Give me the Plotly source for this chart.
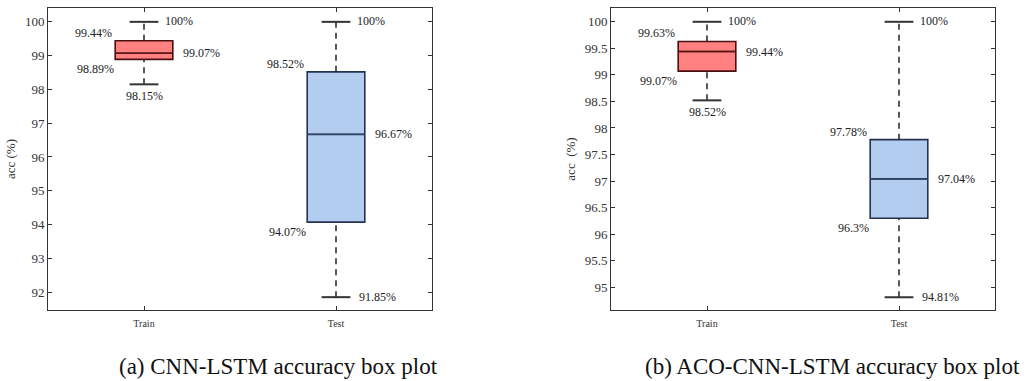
import plotly.graph_objects as go

categories = ["Train", "Test"]

# panel (a) CNN-LSTM
a_min = [98.15, 91.85]
a_q1 = [98.89, 94.07]
a_med = [99.07, 96.67]
a_q3 = [99.44, 98.52]
a_max = [100, 100]

# panel (b) ACO-CNN-LSTM
b_min = [98.52, 94.81]
b_q1 = [99.07, 96.30]
b_med = [99.44, 97.04]
b_q3 = [99.63, 97.78]
b_max = [100, 100]

a_ticks = [92, 93, 94, 95, 96, 97, 98, 99, 100]
b_ticks = [95, 95.5, 96, 96.5, 97, 97.5, 98, 98.5, 99, 99.5, 100]

captions = ["(a) CNN-LSTM accuracy box plot", "(b) ACO-CNN-LSTM accuracy box plot"]

def fmt(v):
    s = ("%.2f" % v).rstrip("0").rstrip(".")
    return s + "%"

fills = ["#FF8080", "#B3CDF1"]
edges = ["#4a1010", "#26324d"]
medc = ["#5a1515", "#2c4868"]
BOXW = 0.3
CAPW = 0.15
FONT = "Liberation Serif"

fig = go.Figure()

panels = [
    (a_min, a_q1, a_med, a_q3, a_max, "x", "y"),
    (b_min, b_q1, b_med, b_q3, b_max, "x2", "y2"),
]

annotations = []
for (mn, q1, md, q3, mx, xa, ya) in panels:
    for i, cat in enumerate(categories):
        # dashed whiskers
        fig.add_trace(go.Scatter(x=[i, i], y=[q3[i], mx[i]], mode="lines",
                                 line=dict(color="#222222", width=1.5, dash="6px,5px"),
                                 xaxis=xa, yaxis=ya, showlegend=False, hoverinfo="skip"))
        fig.add_trace(go.Scatter(x=[i, i], y=[mn[i], q1[i]], mode="lines",
                                 line=dict(color="#222222", width=1.5, dash="6px,5px"),
                                 xaxis=xa, yaxis=ya, showlegend=False, hoverinfo="skip"))
        # caps
        for v in (mn[i], mx[i]):
            fig.add_trace(go.Scatter(x=[i - CAPW / 2, i + CAPW / 2], y=[v, v],
                                     mode="lines", line=dict(color="#333333", width=2),
                                     xaxis=xa, yaxis=ya, showlegend=False, hoverinfo="skip"))
        # box
        fig.add_trace(go.Box(x=[i], q1=[q1[i]], median=[md[i]], q3=[q3[i]],
                             lowerfence=[q1[i]], upperfence=[q3[i]],
                             width=BOXW, whiskerwidth=0,
                             fillcolor=fills[i], line=dict(color=edges[i], width=1.6),
                             xaxis=xa, yaxis=ya, showlegend=False, hoverinfo="skip"))
        fig.add_trace(go.Scatter(x=[i - BOXW / 2, i + BOXW / 2], y=[md[i], md[i]], mode="lines",
                                 line=dict(color=medc[i], width=1.4),
                                 xaxis=xa, yaxis=ya, showlegend=False, hoverinfo="skip"))
        fnt = dict(family=FONT, size=12, color="#222222")
        # labels
        annotations.append(dict(x=i + CAPW / 2, y=mx[i], xref=xa, yref=ya, text=fmt(mx[i]),
                                showarrow=False, xanchor="left", xshift=5, yshift=1, font=fnt))
        annotations.append(dict(x=i - BOXW / 2, y=q3[i], xref=xa, yref=ya, text=fmt(q3[i]),
                                showarrow=False, xanchor="right", xshift=-1, yshift=8, font=fnt))
        annotations.append(dict(x=i + BOXW / 2, y=md[i], xref=xa, yref=ya, text=fmt(md[i]),
                                showarrow=False, xanchor="left", xshift=8, font=fnt))
        annotations.append(dict(x=i - BOXW / 2, y=q1[i], xref=xa, yref=ya, text=fmt(q1[i]),
                                showarrow=False, xanchor="right", xshift=1, yshift=-10, font=fnt))
        if i == 0:
            annotations.append(dict(x=i, y=mn[i], xref=xa, yref=ya, text=fmt(mn[i]),
                                    showarrow=False, xanchor="center", yshift=-12, font=fnt))
        else:
            annotations.append(dict(x=i + CAPW / 2, y=mn[i], xref=xa, yref=ya, text=fmt(mn[i]),
                                    showarrow=False, xanchor="left", xshift=7, font=fnt))

for cx, text in zip([117, 643], captions):
    annotations.append(dict(x=cx / 1034, y=1 - 366 / 381, xref="paper", yref="paper",
                            text=text, showarrow=False, xanchor="left", yanchor="middle",
                            font=dict(family=FONT, size=23, color="#111111")))

axis_common = dict(showline=True, linecolor="#333333", linewidth=1, mirror="ticks",
                   ticks="inside", ticklen=4, tickcolor="#333333", showgrid=False, zeroline=False,
                   automargin=False,
                   tickfont=dict(family=FONT, size=13, color="#333333"))

fig.update_layout(
    width=1034, height=381, autosize=False,
    margin=dict(l=0, r=0, t=0, b=0),
    plot_bgcolor="white", paper_bgcolor="white",
    showlegend=False,
    annotations=annotations,
    xaxis=dict(domain=[48 / 1034, 432 / 1034], range=[-0.5, 1.5], tickvals=[0, 1],
               ticktext=categories, anchor="y", **axis_common),
    yaxis=dict(domain=[1 - 310 / 381, 1 - 8 / 381], range=[91.47, 100.41], tickvals=a_ticks,
               anchor="x", title=dict(text="acc (%)", standoff=6,
                                      font=dict(family=FONT, size=13, color="#333333")),
               **axis_common),
    xaxis2=dict(domain=[611 / 1034, 995 / 1034], range=[-0.5, 1.5], tickvals=[0, 1],
                ticktext=categories, anchor="y2", **axis_common),
    yaxis2=dict(domain=[1 - 310 / 381, 1 - 8 / 381], range=[94.57, 100.26], tickvals=b_ticks,
                anchor="x2", title=dict(text="acc  (%)", standoff=6,
                                        font=dict(family=FONT, size=13, color="#333333")),
                **axis_common),
)
fig.update_xaxes(tickfont=dict(family=FONT, size=10, color="#333333"), ticklabelstandoff=4)

fig.write_html("out.html", config={"displayModeBar": False},
               post_script="document.body.style.margin='0';document.body.style.overflow='hidden';")
